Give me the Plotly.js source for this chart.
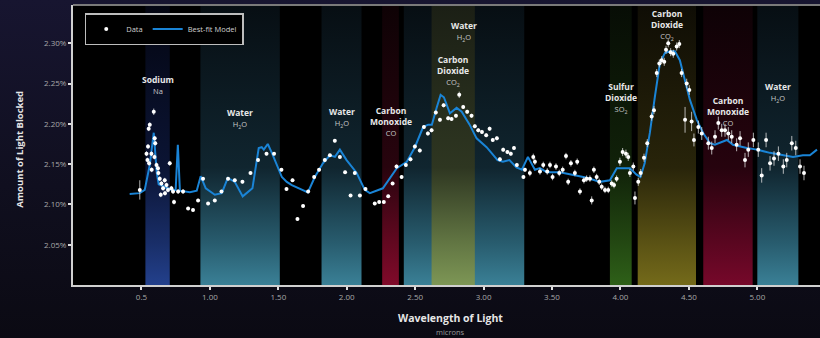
<!DOCTYPE html>
<html>
<head>
<meta charset="utf-8">
<script src="https://cdn.plot.ly/plotly-3.0.1.min.js"></script>
<style>
html,body{margin:0;padding:0;width:820px;height:338px;overflow:hidden;
background:linear-gradient(180deg,#171530 0%,#100f1f 55%,#0b0a13 100%);}
#chart{width:820px;height:338px;}
</style>
</head>
<body>
<div id="chart"></div>
<script>
// ---------- DATA ----------
const wavelength = [
0.488,0.537,0.544,0.548,0.553,0.556,0.561,0.573,0.575,0.590,
0.597,0.601,0.595,0.610,0.621,0.624,0.634,0.641,0.646,0.658,
0.670,0.672,0.683,0.694,0.707,0.719,0.731,0.738,0.768,0.804,
0.841,0.877,0.914,0.950,0.987,1.036,1.085,1.133,1.182,1.238,
1.297,1.352,1.414,1.469,1.523,1.560,1.604,1.640,1.681,1.718,
1.762,1.798,1.840,1.877,1.913,1.950,1.988,2.028,2.059,2.096,
2.137,2.205,2.237,2.271,2.303,2.335,2.364,2.401,2.432,2.466,
2.498,2.534,2.564,2.593,2.620,2.651,2.681,2.708,2.741,2.766,
2.798,2.822,2.851,2.880,2.912,2.936,2.961,2.988,3.019,3.044,
3.067,3.097,3.119,3.143,3.174,3.199,3.222,3.243,3.291,3.302,
3.338,3.363,3.375,3.412,3.436,3.465,3.485,3.504,3.529,3.553,
3.578,3.602,3.618,3.638,3.667,3.684,3.704,3.733,3.753,3.777,
3.790,3.806,3.826,3.845,3.863,3.887,3.911,3.936,3.953,3.972,
3.996,4.016,4.040,4.057,4.069,4.094,4.106,4.130,4.148,4.172,
4.196,4.228,4.245,4.265,4.284,4.301,4.320,4.333,4.349,4.367,
4.386,4.411,4.430,4.447,4.472,4.484,4.503,4.520,4.537,4.569,
4.594,4.642,4.667,4.691,4.715,4.740,4.764,4.788,4.813,4.849,
4.874,4.910,4.934,4.971,5.007,5.032,5.064,5.093,5.122,5.154,
5.190,5.215,5.252,5.281,5.312,5.341];

const blocked = [
2.118,2.163,2.155,2.172,2.194,2.151,2.199,2.163,2.143,2.215,
2.182,2.176,2.159,2.149,2.145,2.139,2.132,2.112,2.126,2.120,
2.130,2.114,2.124,2.118,2.151,2.120,2.116,2.103,2.116,2.116,
2.095,2.093,2.105,2.132,2.101,2.105,2.116,2.132,2.130,2.128,
2.139,2.155,2.163,2.163,2.143,2.119,2.130,2.082,2.098,2.116,
2.134,2.143,2.155,2.161,2.179,2.159,2.140,2.111,2.139,2.111,
2.119,2.101,2.103,2.103,2.110,2.126,2.147,2.134,2.149,2.156,
2.172,2.167,2.196,2.188,2.192,2.214,2.205,2.223,2.207,2.206,
2.210,2.236,2.221,2.215,2.210,2.197,2.192,2.190,2.186,2.194,
2.180,2.182,2.156,2.168,2.165,2.163,2.170,2.149,2.134,2.143,
2.139,2.159,2.153,2.141,2.149,2.141,2.149,2.134,2.147,2.139,
2.143,2.160,2.128,2.151,2.139,2.153,2.116,2.130,2.132,2.132,
2.105,2.143,2.134,2.128,2.122,2.118,2.118,2.126,2.124,2.132,
2.153,2.165,2.163,2.159,2.139,2.147,2.108,2.128,2.139,2.158,
2.176,2.209,2.217,2.263,2.275,2.279,2.277,2.292,2.300,2.289,
2.287,2.296,2.299,2.263,2.205,2.250,2.242,2.203,2.180,2.196,
2.188,2.176,2.170,2.184,2.201,2.192,2.192,2.188,2.184,2.174,
2.182,2.155,2.168,2.180,2.168,2.136,2.180,2.151,2.157,2.163,
2.147,2.155,2.176,2.170,2.147,2.139];

const blockedErr = [
0.012,0.003,0.003,0.003,0.003,0.003,0.003,0.003,0.003,0.004,
0.003,0.003,0.003,0.003,0.003,0.003,0.003,0.003,0.003,0.003,
0.003,0.003,0.003,0.003,0.003,0.003,0.003,0.003,0.003,0.003,
0.002,0.002,0.002,0.002,0.002,0.002,0.002,0.002,0.002,0.002,
0.002,0.002,0.002,0.002,0.002,0.002,0.002,0.002,0.002,0.002,
0.002,0.002,0.002,0.002,0.002,0.002,0.002,0.002,0.002,0.002,
0.002,0.002,0.002,0.002,0.002,0.002,0.0025,0.0025,0.0025,0.0025,
0.0025,0.0025,0.0025,0.0025,0.0025,0.0025,0.0025,0.0025,0.0025,0.0025,
0.0025,0.004,0.0025,0.0025,0.0025,0.0025,0.0025,0.0025,0.0025,0.0025,
0.0025,0.0025,0.0025,0.0025,0.0025,0.0025,0.0025,0.0025,0.0025,0.0025,
0.004,0.004,0.004,0.004,0.004,0.004,0.004,0.004,0.004,0.004,
0.004,0.004,0.004,0.004,0.004,0.004,0.004,0.004,0.004,0.004,
0.005,0.004,0.004,0.004,0.004,0.004,0.004,0.004,0.004,0.004,
0.005,0.005,0.005,0.005,0.005,0.005,0.008,0.005,0.005,0.005,
0.005,0.005,0.005,0.005,0.005,0.005,0.005,0.005,0.005,0.005,
0.005,0.005,0.005,0.005,0.016,0.006,0.006,0.012,0.008,0.008,
0.008,0.008,0.008,0.008,0.008,0.008,0.008,0.008,0.008,0.008,
0.009,0.009,0.009,0.009,0.009,0.009,0.009,0.009,0.009,0.009,
0.009,0.009,0.009,0.009,0.009,0.009];

const modelX = [0.414,0.488,0.524,0.561,0.590,0.612,0.626,0.670,0.721,0.750,
0.766,0.781,0.854,0.904,0.933,0.970,1.036,1.087,1.131,1.182,
1.240,1.311,1.357,1.379,1.394,1.423,1.453,1.526,1.562,1.599,
1.716,1.767,1.826,1.877,1.914,1.950,1.999,2.073,2.132,2.169,
2.242,2.264,2.366,2.439,2.498,2.558,2.595,2.622,2.657,2.686,
2.710,2.754,2.803,2.840,2.898,2.949,3.022,3.102,3.141,3.189,
3.240,3.280,3.324,3.375,3.411,3.462,3.558,3.653,3.755,3.850,
3.923,3.973,4.069,4.118,4.146,4.177,4.215,4.251,4.288,4.325,
4.361,4.398,4.434,4.471,4.507,4.558,4.603,4.654,4.690,4.778,
4.822,4.924,4.997,5.092,5.187,5.261,5.333,5.384,5.436];

const modelY = [2.113,2.114,2.118,2.149,2.189,2.139,2.125,2.122,2.118,2.118,
2.174,2.117,2.115,2.117,2.135,2.120,2.112,2.114,2.133,2.128,
2.110,2.120,2.170,2.171,2.168,2.175,2.164,2.134,2.128,2.124,
2.115,2.134,2.151,2.161,2.159,2.168,2.155,2.139,2.118,2.114,
2.118,2.120,2.145,2.153,2.171,2.196,2.199,2.199,2.220,2.236,
2.233,2.213,2.220,2.215,2.199,2.182,2.171,2.155,2.153,2.155,
2.146,2.143,2.159,2.143,2.145,2.140,2.140,2.137,2.133,2.128,
2.130,2.145,2.145,2.137,2.134,2.151,2.189,2.233,2.275,2.288,
2.290,2.290,2.279,2.254,2.230,2.205,2.189,2.176,2.174,2.180,
2.174,2.170,2.168,2.164,2.161,2.159,2.161,2.161,2.168];

// absorption bands (microns)
const bandName    = ['Sodium','Water','Water','Carbon Monoxide','Water','Carbon Dioxide','Sulfur Dioxide','Carbon Dioxide','Carbon Monoxide','Water'];
const bandFormula = ['Na','H<sub>2</sub>O','H<sub>2</sub>O','CO','H<sub>2</sub>O','CO<sub>2</sub>','SO<sub>2</sub>','CO<sub>2</sub>','CO','H<sub>2</sub>O'];
const bandStart   = [0.529,0.931,1.816,2.259,2.417,2.620,3.923,4.126,4.605,5.000];
const bandEnd     = [0.707,1.511,2.108,2.381,3.297,2.936,4.082,4.552,4.966,5.300];

const xTickVals = [0.5,1.0,1.5,2.0,2.5,3.0,3.5,4.0,4.5,5.0];
const xTickText = ['0.5','1.00','1.50','2.00','2.50','3.00','3.50','4.00','4.50','5.00'];
const yTickVals = [2.05,2.10,2.15,2.20,2.25,2.30];
const yTickText = ['2.05%','2.10%','2.15%','2.20%','2.25%','2.30%'];

// ---------- STYLE ----------
const X_RANGE = [0, 5.458];
const Y_RANGE = [2.0, 2.3475];
const FONT = 'Open Sans, Liberation Sans, sans-serif';
// bottom, lower, middle, top
const bandColors = {
  'Na':   ['rgb(35,64,140)','rgb(25,46,104)','rgb(11,20,52)','rgb(4,6,18)'],
  'H2O':  ['rgb(58,128,150)','rgb(40,92,110)','rgb(16,37,47)','rgb(7,14,19)'],
  'CO':   ['rgb(128,10,42)','rgb(98,8,32)','rgb(40,4,14)','rgb(14,2,5)'],
  'CO2a': ['rgb(125,150,85)','rgb(98,118,67)','rgb(46,54,33)','rgb(27,31,21)'],
  'SO2':  ['rgb(46,96,24)','rgb(35,72,18)','rgb(16,33,9)','rgb(7,13,5)'],
  'CO2b': ['rgb(116,106,26)','rgb(90,82,20)','rgb(40,36,10)','rgb(15,13,5)'],
  'COb':  ['rgb(118,8,42)','rgb(90,6,32)','rgb(38,3,14)','rgb(14,2,6)']
};
const bandStyleKey = ['Na','H2O','H2O','CO','H2O','CO2a','SO2','CO2b','COb','H2O'];
const labelTop = [0.762,0.643,0.645,0.651,0.954,0.832,0.735,0.996,0.685,0.735];

const traces = [];
for (let i = 0; i < bandName.length; i++) {
  const c = bandColors[bandStyleKey[i]];
  traces.push({
    type: 'scatter', mode: 'none',
    x: [bandStart[i], bandEnd[i], bandEnd[i], bandStart[i], bandStart[i]],
    y: [Y_RANGE[0], Y_RANGE[0], Y_RANGE[1], Y_RANGE[1], Y_RANGE[0]],
    fill: 'toself',
    fillcolor: c[2],
    fillgradient: {type: 'vertical', start: Y_RANGE[0], stop: Y_RANGE[1],
      colorscale: [[0, c[0]], [0.15, c[1]], [0.42, c[2]], [1, c[3]]]},
    hoverinfo: 'skip', showlegend: false
  });
}
traces.push({
  type: 'scatter', mode: 'lines', name: 'Best-fit Model',
  x: modelX, y: modelY,
  line: {color: '#1a84d6', width: 2},
  legendrank: 2
});
traces.push({
  type: 'scatter', mode: 'markers', name: 'Data',
  x: wavelength, y: blocked,
  marker: {color: '#ffffff', size: 4},
  error_y: {type: 'data', array: blockedErr, visible: true, color: 'rgba(220,220,220,0.8)', thickness: 1, width: 0},
  legendrank: 1
});

const annotations = [];
for (let i = 0; i < bandName.length; i++) {
  const nameHtml = bandName[i].split(' ').map(w => '<b>' + w + '</b>').join('<br>');
  annotations.push({
    xref: 'x', yref: 'paper',
    x: (bandStart[i] + bandEnd[i]) / 2, y: labelTop[i],
    xanchor: 'center', yanchor: 'top', showarrow: false,
    align: 'center',
    text: nameHtml + '<br><span style="font-size:7.5px;color:#c8c8c8">' + bandFormula[i] + '</span>',
    font: {family: FONT, size: 8.5, color: '#e8e8e8'}
  });
}
annotations.push({
  xref: 'paper', yref: 'paper', x: 0.505, y: -0.118, xanchor: 'center', yanchor: 'middle',
  showarrow: false, text: '<b>Wavelength of Light</b>',
  font: {family: FONT, size: 10.5, color: '#e6e6e6'}
});
annotations.push({
  xref: 'paper', yref: 'paper', x: 0.505, y: -0.168, xanchor: 'center', yanchor: 'middle',
  showarrow: false, text: 'microns',
  font: {family: FONT, size: 7.5, color: '#9a9a9a'}
});
annotations.push({
  xref: 'paper', yref: 'paper', x: -0.0715, y: 0.485, xanchor: 'center', yanchor: 'middle',
  showarrow: false, textangle: -90, text: '<b>Amount of Light Blocked</b>',
  font: {family: FONT, size: 9.5, color: '#e6e6e6'}
});

const axisCommon = {
  showgrid: false, zeroline: false, showline: true,
  linecolor: '#d0d0d0', linewidth: 2,
  ticks: 'outside', ticklen: 3, tickwidth: 2, tickcolor: '#e0e0e0',
  tickfont: {family: FONT, size: 8, color: '#a8a8a8'},
  fixedrange: true
};

const layout = {
  width: 820, height: 338,
  margin: {l: 73, r: 0, t: 5, b: 53, pad: 0},
  paper_bgcolor: 'rgba(0,0,0,0)',
  plot_bgcolor: '#000000',
  font: {family: FONT, color: '#ddd'},
  xaxis: Object.assign({}, axisCommon, {range: X_RANGE, tickvals: xTickVals, ticktext: xTickText}),
  yaxis: Object.assign({}, axisCommon, {range: Y_RANGE, tickvals: yTickVals, ticktext: yTickText}),
  showlegend: true,
  legend: {
    orientation: 'h', x: 0.0157, y: 0.971, xanchor: 'left', yanchor: 'top',
    bgcolor: '#000', bordercolor: '#bdbdbd', borderwidth: 1.5,
    font: {family: FONT, size: 7.5, color: '#cfcfcf'},
    itemwidth: 30, tracegroupgap: 0
  },
  shapes: [{type: 'line', xref: 'paper', yref: 'paper', x0: 0, x1: 1, y0: 1, y1: 1,
            line: {color: '#7a7a7a', width: 2}}],
  annotations: annotations
};

Plotly.newPlot('chart', traces, layout, {displayModeBar: false, staticPlot: true});
</script>
</body>
</html>
